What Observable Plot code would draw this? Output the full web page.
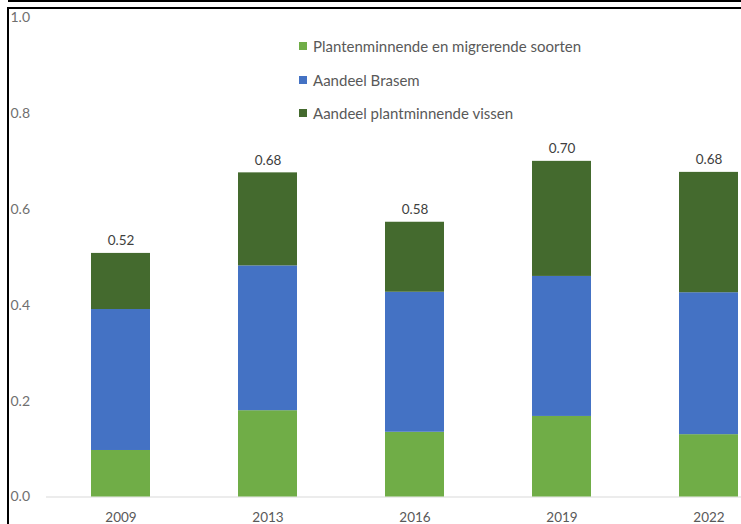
<!DOCTYPE html>
<html>
<head>
<meta charset="utf-8">
<script src="https://cdn.jsdelivr.net/npm/d3@7"></script>
<script src="https://cdn.jsdelivr.net/npm/@observablehq/plot@0.6"></script>
<style>
  html, body { margin: 0; padding: 0; background: #fff; }
  body { width: 741px; height: 524px; position: relative; overflow: hidden; font-family: Lato, "Open Sans", sans-serif; }
  #chart { position: absolute; left: 0; top: 0; }
  .line { position: absolute; background: #000; }
  #legend { position: absolute; left: 299px; top: 37px; font-size: 15px; color: #595959; }
  #legend .item { height: 33.5px; display: flex; align-items: flex-start; }
  #legend .sw { width: 8px; height: 8px; margin-top: 5px; margin-right: 6px; }
</style>
</head>
<body>
<div id="chart"></div>
<div class="line" style="left:8px; top:0; width:733px; height:2px;"></div>
<div class="line" style="left:8px; top:7px; width:733px; height:2px;"></div>
<div class="line" style="left:7px; top:7px; width:2px; height:517px;"></div>
<div id="legend"></div>
<script>
const years = ["2009", "2013", "2016", "2019", "2022"];
const seriesNames = ["Plantenminnende en migrerende soorten", "Aandeel Brasem", "Aandeel plantminnende vissen"];
const seriesColors = ["#70ad47", "#4472c4", "#446a2e"];
const plantenMigrerend = [0.097, 0.180, 0.135, 0.168, 0.130];
const brasem = [0.294, 0.302, 0.292, 0.292, 0.296];
const plantminnend = [0.117, 0.194, 0.146, 0.240, 0.251];
const totalLabels = ["0.52", "0.68", "0.58", "0.70", "0.68"];
const yTicks = [0, 0.2, 0.4, 0.6, 0.8, 1.0];

const seriesValues = [plantenMigrerend, brasem, plantminnend];
const rows = [];
seriesValues.forEach((vals, s) => {
  years.forEach((yr, i) => rows.push({year: yr, series: seriesNames[s], value: vals[i]}));
});
const totals = years.map((yr, i) => ({
  year: yr,
  total: seriesValues.reduce((a, v) => a + v[i], 0),
  label: totalLabels[i]
}));

const chart = Plot.plot({
  width: 741,
  height: 524,
  marginLeft: 46,
  marginRight: 0,
  marginTop: 17,
  marginBottom: 27.5,
  style: {fontFamily: "Lato, 'Open Sans', sans-serif", fontSize: "14px", background: "transparent"},
  x: {domain: years, range: [46.5, 781.5], paddingInner: 0.6, paddingOuter: 0.3, label: null},
  y: {domain: [0, 1], range: [496.5, 17], label: null},
  color: {domain: seriesNames, range: seriesColors},
  marks: [
    Plot.ruleY([0], {stroke: "#d9d9d9", strokeWidth: 1}),
    Plot.barY(rows, Plot.stackY({x: "year", y: "value", fill: "series", order: seriesNames})),
    Plot.text(totals, {x: "year", y: "total", text: "label", dy: -12.5, fill: "#404040", fontSize: 13.5}),
    Plot.axisY(yTicks, {tickSize: 0, tickPadding: 0, textAnchor: "start", dx: -36, tickFormat: d3.format(".1f"), fill: "#6f6f6f", label: null}),
    Plot.axisX({tickSize: 0, tickPadding: 15.5, fill: "#595959", fontSize: 13.5, label: null})
  ]
});
document.getElementById("chart").appendChild(chart);

const legend = document.getElementById("legend");
seriesNames.forEach((name, i) => {
  const item = document.createElement("div");
  item.className = "item";
  const sw = document.createElement("span");
  sw.className = "sw";
  sw.style.background = seriesColors[i];
  const t = document.createElement("span");
  t.textContent = name;
  item.appendChild(sw);
  item.appendChild(t);
  legend.appendChild(item);
});
</script>
</body>
</html>
